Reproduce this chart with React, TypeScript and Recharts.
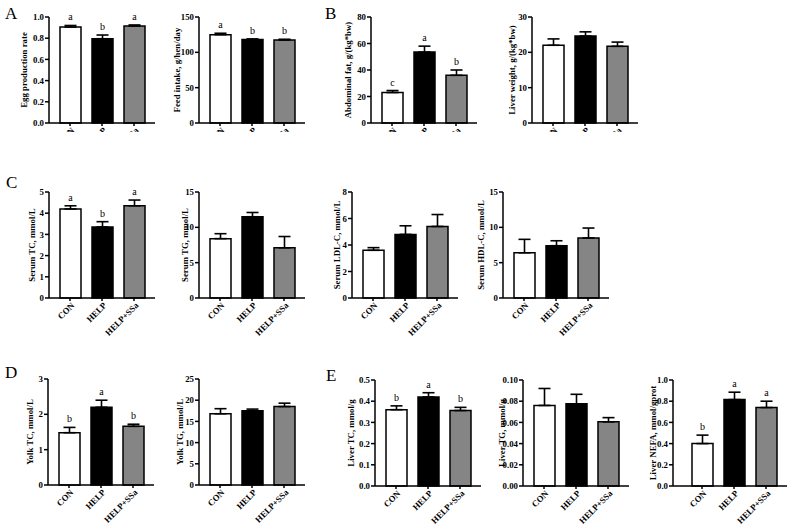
import React from 'react';
import { BarChart, Bar, XAxis, YAxis, ErrorBar, Cell, LabelList } from 'recharts';

const groups = ['CON', 'HELP', 'HELP+SSa'];
const barFills = ['#ffffff', '#000000', '#858585'];

// A
const eggRate = [0.905, 0.795, 0.915];
const eggRateErr = [0.015, 0.035, 0.01];
const eggRateSig = ['a', 'b', 'a'];
const eggRateTicks = [0, 0.2, 0.4, 0.6, 0.8, 1.0];

const feedIntake = [125, 118, 117.5];
const feedIntakeErr = [2, 1, 1];
const feedIntakeSig = ['a', 'b', 'b'];
const feedIntakeTicks = [0, 50, 100, 150];

// B
const abdFat = [23, 53.5, 36];
const abdFatErr = [1.5, 4.5, 4];
const abdFatSig = ['c', 'a', 'b'];
const abdFatTicks = [0, 20, 40, 60, 80];

const liverWeight = [22, 24.6, 21.7];
const liverWeightErr = [1.8, 1.2, 1.2];
const liverWeightTicks = [0, 10, 20, 30];

// C
const serumTC = [4.2, 3.35, 4.35];
const serumTCErr = [0.15, 0.25, 0.27];
const serumTCSig = ['a', 'b', 'a'];
const serumTCTicks = [0, 1, 2, 3, 4, 5];

const serumTG = [8.4, 11.5, 7.1];
const serumTGErr = [0.7, 0.6, 1.6];
const serumTGTicks = [0, 5, 10, 15];

const serumLDL = [3.6, 4.8, 5.4];
const serumLDLErr = [0.2, 0.65, 0.9];
const serumLDLTicks = [0, 2, 4, 6, 8];

const serumHDL = [6.4, 7.4, 8.5];
const serumHDLErr = [1.9, 0.7, 1.4];
const serumHDLTicks = [0, 5, 10, 15];

// D
const yolkTC = [1.48, 2.2, 1.66];
const yolkTCErr = [0.15, 0.2, 0.06];
const yolkTCSig = ['b', 'a', 'b'];
const yolkTCTicks = [0, 1, 2, 3];

const yolkTG = [16.8, 17.5, 18.5];
const yolkTGErr = [1.2, 0.4, 0.8];
const yolkTGTicks = [0, 5, 10, 15, 20, 25];

// E
const liverTC = [0.36, 0.42, 0.356];
const liverTCErr = [0.018, 0.02, 0.015];
const liverTCSig = ['b', 'a', 'b'];
const liverTCTicks = [0, 0.1, 0.2, 0.3, 0.4, 0.5];

const liverTG = [0.076, 0.0775, 0.0605];
const liverTGErr = [0.016, 0.009, 0.004];
const liverTGTicks = [0, 0.02, 0.04, 0.06, 0.08, 0.1];

const liverNEFA = [0.4, 0.815, 0.74];
const liverNEFAErr = [0.08, 0.07, 0.06];
const liverNEFASig = ['b', 'a', 'a'];
const liverNEFATicks = [0, 0.2, 0.4, 0.6, 0.8, 1.0];

const FONT = '"Liberation Serif", "Times New Roman", serif';
const PLOT_H = 106;
const MT = 20;
const XH = 50;
const YW = 44;
const MR = 8;

const XTick = (props: any) => {
  const { x, y, payload } = props;
  const ax = x + 5;
  const ay = y + 3;
  return (
    <text
      x={ax}
      y={ay}
      textAnchor="end"
      transform={`rotate(-45, ${ax}, ${ay})`}
      fontSize={8.7}
      fontWeight="bold"
      fontFamily={FONT}
      fill="#000"
    >
      {payload.value}
    </text>
  );
};

type PanelProps = {
  x0: number;
  top: number;
  label: string;
  values: number[];
  errs: number[];
  sig?: string[];
  ticks: number[];
  digits: number;
  labelGap: number;
  padLeft?: number;
  plotW?: number;
};

const Panel = ({ x0, top, label, values, errs, sig, ticks, digits, labelGap, padLeft = 5, plotW = 106 }: PanelProps) => {
  const data = groups.map((g, i) => ({
    group: g,
    value: values[i],
    err: [0, errs[i]],
    sig: sig ? sig[i] : '',
  }));

  const renderSig = (p: any) => {
    const { x, y, width, height, value, index } = p;
    if (!value) return null;
    const pxPerUnit = Number(height) / values[index];
    const yTop = Number(y) - errs[index] * pxPerUnit;
    return (
      <text
        x={Number(x) + Number(width) / 2}
        y={yTop - 5}
        textAnchor="middle"
        fontSize={10}
        fontFamily={FONT}
        fill="#000"
        style={{ fill: '#000' }}
      >
        {value}
      </text>
    );
  };

  return (
    <div style={{ position: 'absolute', left: x0 - YW, top: top - MT }}>
      <BarChart
        width={YW + plotW + MR}
        height={MT + PLOT_H + XH}
        data={data}
        margin={{ top: MT, right: MR, left: 0, bottom: 0 }}
        barSize={21}
      >
        <XAxis
          dataKey="group"
          height={XH}
          interval={0}
          padding={{ left: padLeft, right: plotW - 96 - padLeft }}
          tickSize={3}
          axisLine={{ stroke: '#000', strokeWidth: 1.5 }}
          tickLine={{ stroke: '#000', strokeWidth: 1.5 }}
          tick={<XTick />}
        />
        <YAxis
          width={YW}
          domain={[0, ticks[ticks.length - 1]]}
          ticks={ticks}
          interval={0}
          tickSize={4}
          tickMargin={1}
          axisLine={{ stroke: '#000', strokeWidth: 1.5 }}
          tickLine={{ stroke: '#000', strokeWidth: 1.5 }}
          tick={{ fontSize: 8.8, fontWeight: 'bold', fill: '#000', fontFamily: FONT }}
          tickFormatter={(v: number) => v.toFixed(digits)}
          label={{
            value: label,
            angle: -90,
            position: 'insideLeft',
            offset: YW - labelGap,
            style: { textAnchor: 'middle', fontSize: 8.8, fontWeight: 'bold', fill: '#000', fontFamily: FONT },
          }}
        />
        <Bar dataKey="value" stroke="#000" strokeWidth={1.5} isAnimationActive={false}>
          {data.map((d, i) => (
            <Cell key={d.group} fill={barFills[i]} />
          ))}
          <ErrorBar dataKey="err" width={6} stroke="#000" strokeWidth={1.6} direction="y" />
          <LabelList dataKey="sig" content={renderSig} />
        </Bar>
      </BarChart>
    </div>
  );
};

const letterStyle: React.CSSProperties = {
  position: 'absolute',
  fontFamily: FONT,
  fontSize: 17,
  lineHeight: '17px',
  color: '#000',
};

export default function App() {
  return (
    <div style={{ position: 'absolute', left: 0, top: 0, width: 791, height: 529, background: '#fff', overflow: 'hidden' }}>
      <div style={{ position: 'absolute', left: 0, top: 0, width: 791, height: 132, overflow: 'hidden' }}>
        <Panel x0={49} top={17} label="Egg production rate" values={eggRate} errs={eggRateErr} sig={eggRateSig} ticks={eggRateTicks} digits={1} labelGap={25} />
        <Panel x0={199} top={17} label="Feed intake, g/hen/day" values={feedIntake} errs={feedIntakeErr} sig={feedIntakeSig} ticks={feedIntakeTicks} digits={0} labelGap={22} />
        <Panel x0={371} top={17} label="Abdominal fat, g/(kg*bw)" values={abdFat} errs={abdFatErr} sig={abdFatSig} ticks={abdFatTicks} digits={0} labelGap={23} />
        <Panel x0={532} top={17} label="Liver weight,  g/(kg*bw)" values={liverWeight} errs={liverWeightErr} ticks={liverWeightTicks} digits={0} labelGap={20} />
      </div>

      <Panel x0={49} top={192} label="Serum TC, mmol/L" values={serumTC} errs={serumTCErr} sig={serumTCSig} ticks={serumTCTicks} digits={0} labelGap={17} />
      <Panel x0={199} top={192} label="Serum TG, mmol/L" values={serumTG} errs={serumTGErr} ticks={serumTGTicks} digits={0} labelGap={14} />
      <Panel x0={352} top={192} label="Serum LDL-C, mmol/L" values={serumLDL} errs={serumLDLErr} ticks={serumLDLTicks} digits={0} labelGap={15} />
      <Panel x0={503} top={192} label="Serum HDL-C, mmol/L" values={serumHDL} errs={serumHDLErr} ticks={serumHDLTicks} digits={0} labelGap={22} />

      <Panel x0={48} top={379} label="Yolk TC, mmol/L" values={yolkTC} errs={yolkTCErr} sig={yolkTCSig} ticks={yolkTCTicks} digits={0} labelGap={18} />
      <Panel x0={199} top={379} label="Yolk TG, mmol/L" values={yolkTG} errs={yolkTGErr} ticks={yolkTGTicks} digits={0} labelGap={19} />
      <Panel x0={375} top={380} label="Liver TC, mmol/g" values={liverTC} errs={liverTCErr} sig={liverTCSig} ticks={liverTCTicks} digits={1} labelGap={24} />
      <Panel x0={523} top={380} label="Liver TG, mmol/g" values={liverTG} errs={liverTGErr} ticks={liverTGTicks} digits={2} labelGap={21} />
      <Panel x0={673} top={380} label="Liver NEFA, mmol/gprot" values={liverNEFA} errs={liverNEFAErr} sig={liverNEFASig} ticks={liverNEFATicks} digits={1} labelGap={20} padLeft={13} plotW={114} />

      <div style={{ ...letterStyle, left: 5, top: 5 }}>A</div>
      <div style={{ ...letterStyle, left: 325, top: 5 }}>B</div>
      <div style={{ ...letterStyle, left: 6, top: 174 }}>C</div>
      <div style={{ ...letterStyle, left: 5, top: 364 }}>D</div>
      <div style={{ ...letterStyle, left: 326, top: 367 }}>E</div>
    </div>
  );
}
